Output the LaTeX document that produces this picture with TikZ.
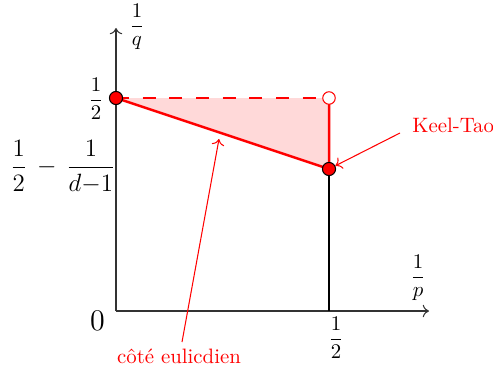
\documentclass[tikz,border=0pt]{standalone}
\usetikzlibrary{arrows.meta}
\begin{document}
\begin{tikzpicture}[x=0.48pt,y=-0.48pt,
  axis/.style={draw=black!80,line width=0.5pt,-{To[length=3pt,width=6pt]}},
  redthick/.style={draw=red,line width=1.2pt},
  dot/.style={circle,fill=red,draw=black,line width=0.5pt,inner sep=0pt,minimum size=6.3pt},
  odot/.style={circle,fill=white,draw=red,line width=0.5pt,inner sep=0pt,minimum size=6pt},
  lab/.style={inner sep=0pt},
  note/.style={text=red,inner sep=0pt},
  notearrow/.style={draw=red,line width=0.5pt,-{To[length=3pt,width=6pt]}}]
\useasboundingbox (0,0) rectangle (493,372);
\coordinate (O) at (116,311);
\coordinate (A) at (116,98);
\coordinate (B) at (329,98);
\coordinate (C) at (329,169);
\coordinate (D) at (329,311);
\coordinate (X) at (429,311);
\coordinate (Y) at (116,28);
\fill[red!15] (A) -- (B) -- (C) -- cycle;
\draw[axis] (O) -- (X);
\draw[axis] (O) -- (Y);
\draw[draw=black,line width=0.9pt] (C) -- (D);
\draw[redthick,dash pattern=on 6.3pt off 6.5pt] (A) -- (B);
\draw[redthick] (A) -- (C) -- (B);
\node[dot] (a) at (A) {};
\node[dot] (c) at (C) {};
\node[odot] (b) at (B) {};
\node[lab] (lq) at (137,27) {$\displaystyle\frac{1}{q}$};
\node[lab] (lp) at (418,278) {$\displaystyle\frac{1}{p}$};
\node[lab,font=\Large] (l0) at (97.5,320.5) {$0$};
\node[lab] (lx) at (336,338) {$\displaystyle\frac{1}{2}$};
\node[lab] (ly) at (96,99) {$\displaystyle\frac{1}{2}$};
\node[lab,font=\large,anchor=east] (ld) at (116,167) {$\displaystyle\frac{1}{2}\,-\,\frac{1}{d{-}1}$};
\node[note,anchor=west] (kt) at (412,125) {Keel-Tao};
\node[note] (ce) at (179,356) {côté eulicdien};
\coordinate (kts) at (400,133);
\coordinate (ces) at (182,342);
\coordinate (cee) at (219,139);
\draw[notearrow] (kts) -- (c);
\draw[notearrow] (ces) -- (cee);
\end{tikzpicture}
\end{document}
